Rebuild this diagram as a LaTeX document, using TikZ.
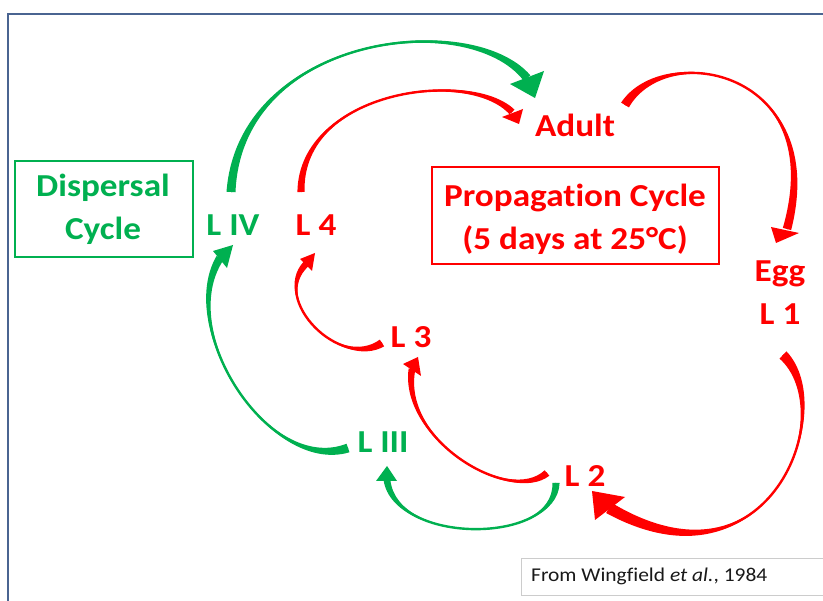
\documentclass[tikz,border=0pt]{standalone}
\usepackage{fontspec}
\setmainfont{Carlito}[FakeStretch=1.1, Ligatures=NoCommon]
\usetikzlibrary{calc}
\definecolor{pgreen}{HTML}{00B050}
\definecolor{pred}{HTML}{FF0000}
\definecolor{frameblue}{HTML}{4A6491}
% tapered curved arrow body: start, c1, c2, end, half width start, half width end, control offset, colour
\newcommand\tarr[8]{%
  \fill[#8] ($(#1)!#5!90:(#2)$) .. controls ($(#2)!#7!-90:(#1)$) and ($(#3)!#7!90:(#4)$) .. ($(#4)!#6!-90:(#3)$)
     -- ($(#4)!#6!90:(#3)$) .. controls ($(#3)!#7!-90:(#4)$) and ($(#2)!#7!90:(#1)$) .. ($(#1)!#5!-90:(#2)$) -- cycle;
  \draw[#8, line width=2.4pt] (#1) .. controls (#2) and (#3) .. (#4);
}
\tikzset{
  lab/.style={font=\bfseries\fontsize{32}{38}\selectfont, anchor=base, inner sep=0pt},
  rlab/.style={lab, text=pred},
  glab/.style={lab, text=pgreen},
}
\begin{document}
\begin{tikzpicture}[x=1pt,y=-1pt]
\useasboundingbox (0,0) rectangle (823,601);
\fill[white] (0,0) rectangle (823,601);
% frame
\draw[frameblue, line width=2pt] (8,603) -- (8,14) -- (825,14);

% boxes
\node[draw=pgreen, line width=1.6pt, minimum width=178pt, minimum height=96pt, inner sep=0pt] (dispbox) at (104,209) {};
\node[glab] (disp1) at (103,197) {Dispersal};
\node[glab] (disp2) at (103,240) {Cycle};

\node[draw=pred, line width=2pt, minimum width=287pt, minimum height=97pt, inner sep=0pt] (propbox) at (575.5,215.5) {};
\node[rlab] (prop1) at (575,207) {Propagation Cycle};
\node[rlab] (prop2) at (575,250) {(5 days at 25°C)};

% stage labels
\node[rlab] (adult) at (575,137) {Adult};
\node[rlab] (egg) at (780,282) {Egg};
\node[rlab] (lone) at (780,325) {L 1};
\node[rlab] (ltwo) at (585,487) {L 2};
\node[rlab] (lthree) at (411,348) {L 3};
\node[rlab] (lfour) at (316,236) {L 4};
\node[glab] (liii) at (383,453) {L III};
\node[glab] (liv) at (233,236) {L IV};

% citation
\node[draw=black!20, line width=0.6pt, minimum width=310pt, minimum height=37pt, inner sep=0pt] (citebox) at (676,576.5) {};
\node[anchor=base west, inner sep=0pt, font=\fontsize{19.5}{23}\selectfont, text=black!90] (cite) at (531,582) {From Wingfield \textit{et al.}, 1984};

% ---------- arrows ----------
% A: L IV -> Adult (green, top)
\coordinate (a0) at (231,192); \coordinate (a1) at (240,35); \coordinate (a2) at (470,8); \coordinate (a3) at (527,78);
\tarr{a0}{a1}{a2}{a3}{4.5pt}{4.3pt}{1.6pt}{pgreen}
\coordinate (ah1) at (510,84); \coordinate (ah2) at (544,71); \coordinate (ah3) at (535,98);
\fill[pgreen] (ah1) -- (ah2) -- (ah3) -- cycle;

% B: L 4 -> Adult (red)
\coordinate (b0) at (301,192); \coordinate (b1) at (300,90); \coordinate (b2) at (470,68); \coordinate (b3) at (512,112);
\tarr{b0}{b1}{b2}{b3}{3.6pt}{3.4pt}{1.2pt}{pred}
\coordinate (bh1) at (502,117); \coordinate (bh2) at (523,109); \coordinate (bh3) at (519,124);
\fill[pred] (bh1) -- (bh2) -- (bh3) -- cycle;

% C: Adult -> Egg (red)
\coordinate (c0) at (625,105); \coordinate (c1) at (665,40); \coordinate (c2) at (830,70); \coordinate (c3) at (787,229);
\tarr{c0}{c1}{c2}{c3}{4.6pt}{4.3pt}{1.6pt}{pred}
\coordinate (ch1) at (771,227); \coordinate (ch2) at (799,233); \coordinate (ch3) at (776,243);
\fill[pred] (ch1) -- (ch2) -- (ch3) -- cycle;

% D: L 1 -> L 2 (red, large)
\coordinate (d0) at (783,355); \coordinate (d1) at (840,410); \coordinate (d2) at (770,600); \coordinate (d3) at (609,508);
\tarr{d0}{d1}{d2}{d3}{5pt}{5.8pt}{1.8pt}{pred}
\coordinate (dh1) at (595,520); \coordinate (dh2) at (625,497); \coordinate (dh3) at (592,491);
\fill[pred] (dh1) -- (dh2) -- (dh3) -- cycle;

% E: L 2 -> L 3 (red)
\coordinate (e0) at (547,473); \coordinate (e1) at (510,505); \coordinate (e2) at (400,440); \coordinate (e3) at (412,369);
\tarr{e0}{e1}{e2}{e3}{3.6pt}{3.4pt}{1.2pt}{pred}
\coordinate (eh1) at (403,364); \coordinate (eh2) at (421,376); \coordinate (eh3) at (418,357);
\fill[pred] (eh1) -- (eh2) -- (eh3) -- cycle;

% F: L 3 -> L 4 (red)
\coordinate (f0) at (382,343); \coordinate (f1) at (340,370); \coordinate (f2) at (270,300); \coordinate (f3) at (306,264);
\tarr{f0}{f1}{f2}{f3}{4pt}{3.3pt}{1.2pt}{pred}
\coordinate (fh1) at (300,259); \coordinate (fh2) at (312,271); \coordinate (fh3) at (315,253);
\fill[pred] (fh1) -- (fh2) -- (fh3) -- cycle;

% G: L III -> L IV (green)
\coordinate (g0) at (348,448); \coordinate (g1) at (270,475); \coordinate (g2) at (175,330); \coordinate (g3) at (220,258);
\tarr{g0}{g1}{g2}{g3}{4.5pt}{4pt}{1.3pt}{pgreen}
\coordinate (gh1) at (213,251); \coordinate (gh2) at (227,268); \coordinate (gh3) at (233,245);
\fill[pgreen] (gh1) -- (gh2) -- (gh3) -- cycle;

% H: L 2 -> L III (green)
\coordinate (h0) at (556,483); \coordinate (h1) at (556,545); \coordinate (h2) at (395,545); \coordinate (h3) at (387,480);
\tarr{h0}{h1}{h2}{h3}{3.6pt}{3.4pt}{1.2pt}{pgreen}
\coordinate (hh1) at (376,481); \coordinate (hh2) at (397,481); \coordinate (hh3) at (387,466);
\fill[pgreen] (hh1) -- (hh2) -- (hh3) -- cycle;
\end{tikzpicture}
\end{document}
